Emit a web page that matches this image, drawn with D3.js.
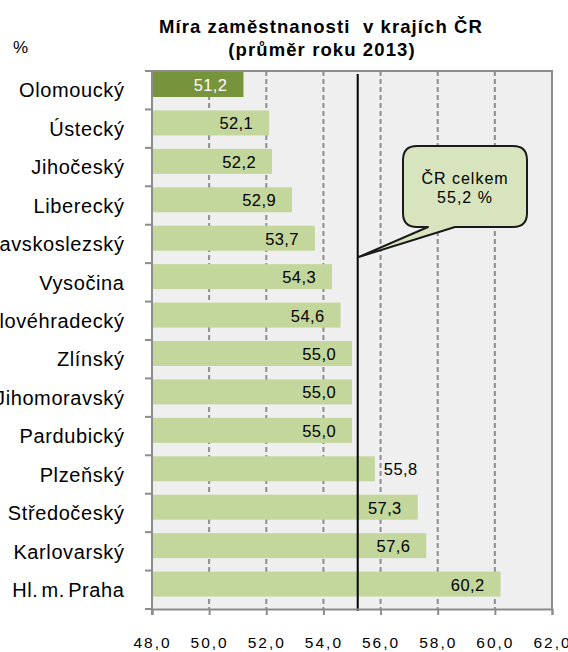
<!DOCTYPE html>
<html>
<head>
<meta charset="utf-8">
<script src="https://cdn.jsdelivr.net/npm/d3@7"></script>
<style>
  body { margin: 0; background: #fff; }
  svg { font-family: Arial, "Liberation Sans", sans-serif; }
</style>
</head>
<body>
<div id="chart"></div>
<script>
// data, top to bottom
var regions = ["Olomoucký", "Ústecký", "Jihočeský", "Liberecký", "Moravskoslezský", "Vysočina",
    "Královéhradecký", "Zlínský", "Jihomoravský", "Pardubický", "Plzeňský", "Středočeský",
    "Karlovarský", "Hl. m. Praha"];
var rates = [51.2, 52.1, 52.2, 52.9, 53.7, 54.3, 54.6, 55.0, 55.0, 55.0, 55.8, 57.3, 57.6, 60.2];
var xTicks = [48, 50, 52, 54, 56, 58, 60, 62];
var czAverage = 55.2;
var highlighted = ["Olomoucký"];
var labelsOutside = ["Plzeňský"];

var width = 568, height = 652;
// plot area edges (note: "top" is reserved by window, so use plot* names)
var plotLeft = 152, plotRight = 552, plotTop = 71, plotBottom = 609;

var fmt = function(v) { return d3.format(".1f")(v).replace(".", ","); };

var svg = d3.select("#chart").append("svg")
    .attr("width", width)
    .attr("height", height);

var x = d3.scaleLinear().domain([48, 62]).range([plotLeft, plotRight]);
var y = d3.scaleBand().domain(regions).range([plotTop, plotBottom]).padding(0);

// plot background
svg.append("rect")
    .attr("x", plotLeft).attr("y", plotTop)
    .attr("width", plotRight - plotLeft).attr("height", plotBottom - plotTop)
    .attr("fill", "#efefef");

// dashed grid lines
svg.selectAll("line.grid")
    .data(xTicks.slice(1, -1))
    .enter()
    .append("line")
    .attr("class", "grid")
    .attr("x1", function(d) { return x(d); })
    .attr("x2", function(d) { return x(d); })
    .attr("y1", plotTop).attr("y2", plotBottom)
    .attr("stroke", "#8d8d8d")
    .attr("stroke-width", 2)
    .attr("stroke-dasharray", "5,3");

// top and right border
svg.append("path")
    .attr("d", "M" + plotLeft + "," + plotTop + "H" + plotRight + "V" + plotBottom)
    .attr("fill", "none")
    .attr("stroke", "#8c8c8c")
    .attr("stroke-width", 2);

// bars
var data = regions.map(function(r, i) { return { region: r, rate: rates[i] }; });

svg.selectAll("rect.bar")
    .data(data)
    .enter()
    .append("rect")
    .attr("class", "bar")
    .attr("x", x(48))
    .attr("y", function(d) { return y(d.region) + 1; })
    .attr("width", function(d) { return x(d.rate) - x(48); })
    .attr("height", 25)
    .attr("fill", function(d) {
        return highlighted.indexOf(d.region) >= 0 ? "#77933c" : "#c3d69b";
    });

// value labels
svg.selectAll("text.value")
    .data(data)
    .enter()
    .append("text")
    .attr("class", "value")
    .text(function(d) { return fmt(d.rate); })
    .attr("x", function(d) {
        return labelsOutside.indexOf(d.region) >= 0 ? x(d.rate) + 9 : x(d.rate) - 16;
    })
    .attr("y", function(d) { return y(d.region) + 14; })
    .attr("dy", "0.36em")
    .attr("text-anchor", function(d) {
        return labelsOutside.indexOf(d.region) >= 0 ? "start" : "end";
    })
    .attr("font-size", "16.5px")
    .attr("letter-spacing", "0.4px")
    .attr("fill", function(d) {
        return highlighted.indexOf(d.region) >= 0 ? "#ffffff" : "#000000";
    });

// average line
svg.append("line")
    .attr("x1", x(czAverage)).attr("x2", x(czAverage))
    .attr("y1", plotTop + 3).attr("y2", plotBottom + 2)
    .attr("stroke", "#000")
    .attr("stroke-width", 2);

// axes
var xAxis = svg.append("g")
    .attr("transform", "translate(0," + plotBottom + ")")
    .call(d3.axisBottom(x).tickValues(xTicks).tickSize(6).tickPadding(22).tickFormat(fmt));
xAxis.select(".domain").attr("stroke", "#8c8c8c").attr("stroke-width", 2);
xAxis.selectAll(".tick line").attr("stroke", "#8c8c8c").attr("stroke-width", 2);
xAxis.selectAll(".tick text")
    .attr("font-size", "15.5px")
    .attr("font-family", "Arial, 'Liberation Sans', sans-serif")
    .attr("letter-spacing", "2px")
    .attr("fill", "#000");

var yAxis = svg.append("g")
    .attr("transform", "translate(" + plotLeft + ",0)");
yAxis.append("line")
    .attr("x1", 0).attr("x2", 0)
    .attr("y1", plotTop).attr("y2", plotBottom + 6)
    .attr("stroke", "#8c8c8c").attr("stroke-width", 2);
yAxis.selectAll("line.ytick")
    .data(d3.range(regions.length + 1))
    .enter()
    .append("line")
    .attr("class", "ytick")
    .attr("x1", -7).attr("x2", 0)
    .attr("y1", function(i) { return plotTop + i * y.step(); })
    .attr("y2", function(i) { return plotTop + i * y.step(); })
    .attr("stroke", "#8c8c8c").attr("stroke-width", 2);

svg.selectAll("text.region")
    .data(regions)
    .enter()
    .append("text")
    .attr("class", "region")
    .text(function(d) { return d; })
    .attr("x", 124.5)
    .attr("y", function(d) { return y(d) + y.bandwidth() / 2; })
    .attr("dy", "0.36em")
    .attr("text-anchor", "end")
    .attr("font-size", "20px")
    .attr("letter-spacing", "0.6px")
    .attr("word-spacing", "-3px")
    .attr("fill", "#000");

// unit
svg.append("text")
    .text("%")
    .attr("x", 13).attr("y", 53)
    .attr("font-size", "17px")
    .attr("fill", "#000");

// title
var title = svg.append("text")
    .attr("text-anchor", "middle")
    .attr("font-weight", "bold")
    .attr("font-size", "18.5px")
    .attr("letter-spacing", "1.1px")
    .style("white-space", "pre")
    .attr("fill", "#000");
title.append("tspan").attr("x", 321).attr("y", 33).text("Míra zaměstnanosti  v krajích ČR");
title.append("tspan").attr("x", 322).attr("y", 56).text("(průměr roku 2013)");

// callout
var bx0 = 403, by0 = 146, bx1 = 527, by1 = 227, r = 14;
var tipX = x(czAverage) + 1, tipY = 257;
var callout = "M" + (bx0 + r) + "," + by0 +
    "H" + (bx1 - r) + "Q" + bx1 + "," + by0 + " " + bx1 + "," + (by0 + r) +
    "V" + (by1 - r) + "Q" + bx1 + "," + by1 + " " + (bx1 - r) + "," + by1 +
    "H455L" + tipX + "," + tipY + "L428," + by1 +
    "H" + (bx0 + r) + "Q" + bx0 + "," + by1 + " " + bx0 + "," + (by1 - r) +
    "V" + (by0 + r) + "Q" + bx0 + "," + by0 + " " + (bx0 + r) + "," + by0 + "Z";
svg.append("path")
    .attr("d", callout)
    .attr("fill", "#d7e4bd")
    .attr("stroke", "#1a1a1a")
    .attr("stroke-width", 2)
    .attr("stroke-linejoin", "round");

var ctext = svg.append("text")
    .attr("text-anchor", "middle")
    .attr("font-size", "16px")
    .attr("letter-spacing", "1px")
    .attr("fill", "#000");
ctext.append("tspan").attr("x", 465).attr("y", 184).text("ČR celkem");
ctext.append("tspan").attr("x", 465).attr("y", 203).text(fmt(czAverage) + " %");
</script>
</body>
</html>
